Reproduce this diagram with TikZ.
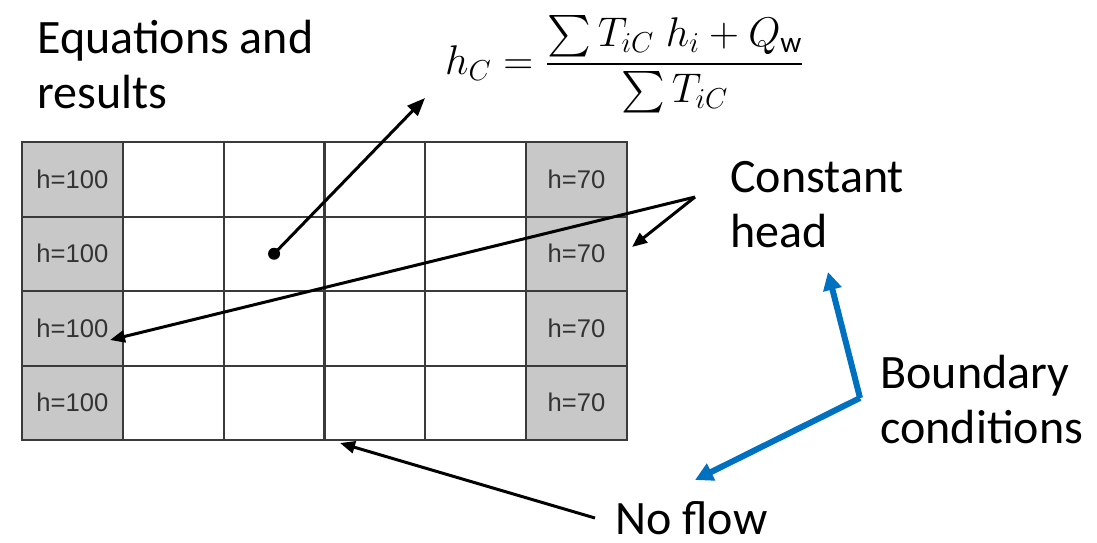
\documentclass[tikz,border=0pt]{standalone}
\usepackage{amsmath}
\usepackage{fontspec}
\setmainfont{Carlito}
\newfontfamily\cellfont{Liberation Sans}
\usepackage{tikz}
\usetikzlibrary{arrows.meta}
\definecolor{gridline}{HTML}{3A3A3A}
\definecolor{fixgray}{HTML}{C8C8C8}
\definecolor{celltext}{HTML}{333333}
\definecolor{bcblue}{HTML}{0070C0}
\tikzset{
  cell/.style={draw=gridline, line width=1pt, minimum width=50.4pt, minimum height=37.25pt,
               inner sep=0pt, font=\cellfont\fontsize{12.8}{14}\selectfont, text=celltext},
  fixcell/.style={cell, fill=fixgray},                                   % constant head cell
  lbl/.style={font=\fontsize{24}{27.5}\selectfont, align=left, inner sep=0pt, anchor=base west},
  pe/.style={draw=black, line width=1.5pt, -{Triangle[length=7.5pt,width=6pt]}},   % pointer
  be/.style={draw=bcblue, line width=3pt, -{Triangle[length=9pt,width=9pt]}},      % boundary pointer
}
\begin{document}
\begin{tikzpicture}[x=0.5pt,y=-0.5pt]
  \useasboundingbox (0,0) rectangle (1097,542);
  % grid cells
  \foreach \r in {1,...,4}
    \foreach \c in {2,...,5}
      \node[cell] (c\r\c) at ({22+100.83*(\c-0.5)},{142+74.5*(\r-0.5)}) {};
  \foreach \r in {1,...,4}{
    \node[fixcell] (c\r1) at ({22+100.83*0.5},{142+74.5*(\r-0.5)}) {h=100};
    \node[fixcell] (c\r6) at ({22+100.83*5.5},{142+74.5*(\r-0.5)}) {h=70};
  }
  % labels
  \node[lbl] (eqlbl) at (37,108) {Equations and\\results};
  \node[font=\fontsize{21}{25}\selectfont, inner sep=0pt] (eqn) at (625,64)
    {$h_C = \dfrac{\sum T_{iC}\; h_i + Q_{\mathrm{w}}}{\sum T_{iC}}$};
  \node[lbl] (chlbl) at (730,247) {Constant\\head};
  \node[lbl] (bclbl) at (880,443) {Boundary\\conditions};
  \node[lbl] (nflbl) at (615,534) {No flow};
  % pointers
  \fill (c23.center) circle (3pt);
  \coordinate (eqtip) at (425,98);
  \draw[pe, -{Triangle[length=9pt,width=7pt]}] (c23.center) -- (eqtip);
  \coordinate (chfork) at (695,197);
  \coordinate (chtipA) at (110,340);
  \coordinate (chtipB) at (632,247);
  \draw[pe] (chfork) -- (chtipA);
  \draw[pe] (chfork) -- (chtipB);
  \coordinate (nfstart) at (595,518);
  \coordinate (nftip) at (340,443);
  \draw[pe] (nfstart) -- (nftip);
  \coordinate (bcfork) at (860,398);
  \coordinate (bctipA) at (828,272);
  \coordinate (bctipB) at (695,480);
  \draw[be] (bcfork) -- (bctipA);
  \draw[be] (bcfork) -- (bctipB);
\end{tikzpicture}
\end{document}
